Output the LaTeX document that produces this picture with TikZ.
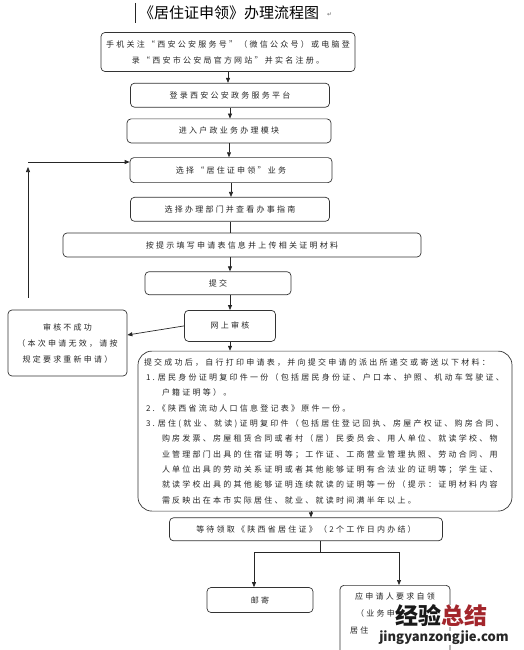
\documentclass[tikz,border=0pt]{standalone}
\usepackage{fontspec}
\setmainfont{Noto Sans CJK SC}
\newfontfamily\boxcjk[LetterSpace=28]{Noto Sans CJK SC}
\newfontfamily\arrowfont{DejaVu Sans}
\usepackage{xcolor}
\usepackage{tikz}
\usetikzlibrary{arrows.meta, positioning}

\definecolor{inkgray}{HTML}{262626}
\definecolor{markred}{HTML}{A3262C}
\newcommand{\itemnum}[1]{\hspace*{2pt}\makebox[12pt][l]{#1}}
\newcommand{\itemcont}{\hspace*{18pt}}

\begin{document}
\begin{tikzpicture}[
    x=1pt, y=1pt,
    box/.style={rectangle, rounded corners=4pt, draw=black!80, line width=0.7pt, minimum height=24pt, align=center, inner sep=2pt, text=inkgray, font=\boxcjk\fontsize{8}{16}\selectfont},
    bigbox/.style={box, rounded corners=14pt, align=left, inner xsep=6pt, inner ysep=0pt, font=\boxcjk\fontsize{8}{15.3}\selectfont},
    arrow/.style={-{Triangle[length=5pt, width=4pt]}, line width=0.7pt, draw=black!85},
    line/.style={line width=0.7pt, draw=black!85},
    wmark/.style={inner sep=0pt, fill=white, font=\bfseries}
]
\useasboundingbox (0,0) rectangle (524,-650);

% title
\node[font=\fontsize{15}{18}\selectfont, text=black] (title) at (229,-13) {《居住证申领》办理流程图};
\node[right=1pt of title, font=\arrowfont\fontsize{6}{6}\selectfont, text=black!60, yshift=-2pt] (pmark) {↵};
\draw[line] (135,-3) -- (135,-23);

% main column
\node[box, minimum width=254pt, minimum height=39pt] (start) at (228,-52) {手机关注“西安公安服务号”（微信公众号）或电脑登\\录“西安市公安局官方网站”并实名注册。};
\node[box, minimum width=199pt, below=11pt of start, xshift=2pt] (login) {登录西安公安政务服务平台};
\node[box, minimum width=204pt, below=11pt of login, xshift=-1pt] (module) {进入户政业务办理模块};
\node[box, minimum width=202pt, minimum height=25pt, below=14pt of module, xshift=2pt] (choose) {选择“居住证申领”业务};
\node[box, minimum width=199pt, below=14pt of choose, xshift=-1pt] (dept) {选择办理部门并查看办事指南};
\node[box, minimum width=358pt, below=11pt of dept, xshift=12pt] (fill) {按提示填写申请表信息并上传相关证明材料};
\node[box, minimum width=146pt, minimum height=23pt, below=14pt of fill, xshift=-24pt] (submit) {提交};
\node[box, minimum width=91pt, minimum height=31pt, below=15pt of submit, xshift=12pt] (review) {网上审核};
\node[box, minimum width=119pt, minimum height=66pt] (fail) at (67.5,-343) {审核不成功\\（本次申请无效，请按\\规定要求重新申请）};

% materials
\node[bigbox, text width=362pt, minimum height=160pt, below=9pt of review, xshift=95pt] (materials) {%
提交成功后，自行打印申请表，并向提交申请的派出所递交或寄送以下材料：\\
\itemnum{1.}居民身份证明复印件一份（包括居民身份证、户口本、护照、机动车驾驶证、\\
\itemcont 户籍证明等）。\\
\itemnum{2.}《陕西省流动人口信息登记表》原件一份。\\
\itemnum{3.}居住(就业、就读)证明复印件（包括居住登记回执、房屋产权证、购房合同、\\
\itemcont 购房发票、房屋租赁合同或者村（居）民委员会、用人单位、就读学校、物\\
\itemcont 业管理部门出具的住宿证明等；工作证、工商营业管理执照、劳动合同、用\\
\itemcont 人单位出具的劳动关系证明或者其他能够证明有合法业的证明等；学生证、\\
\itemcont 就读学校出具的其他能够证明连续就读的证明等一份（提示：证明材料内容\\
\itemcont 需反映出在本市实际居住、就业、就读时间满半年以上。};

% collection
\node[box, minimum width=273pt, minimum height=23pt, below=6pt of materials, xshift=-19pt] (wait) {等待领取《陕西省居住证》（2个工作日内办结）};
\node[box, minimum width=106pt, minimum height=25pt] (mail) at (260,-600) {邮寄};
\node[box, minimum width=110pt, minimum height=90pt, anchor=north] (selfbox) at (395,-585) {};
\node[anchor=north west, inner sep=0pt, align=left, text=inkgray, font=\boxcjk\fontsize{8}{17}\selectfont] (selftext) at (350,-593) {\hspace*{5pt}应申请人要求自领\\\hspace*{6pt}（业务申\\居住};

% watermark
\node[wmark, font=\bfseries\fontsize{23}{23}\selectfont] (markcn) at (441,-616) {\textcolor{black!90}{经验}\textcolor{markred}{总结}};
\node[wmark, font=\bfseries\fontsize{13}{13}\selectfont, text=black!85] (markurl) at (444,-638) {jingyanzongjie.com};

% connectors
\draw[arrow] (start) -- (start |- login.north);
\draw[arrow] (login) -- (login |- module.north);
\draw[arrow] (module) -- (module |- choose.north);
\draw[arrow] (choose) -- (choose |- dept.north);
\draw[line] (dept) -- (dept |- fill.north);
\draw[arrow] (fill.south -| review) -- (submit.north -| review);
\draw[arrow] (review |- submit.south) -- (review);
\draw[arrow] (review) -- (review |- materials.north);
\draw[arrow] (review.west) -- ([yshift=8pt]fail.east);
\coordinate (loopcorner) at (28,-162);
\draw[arrow] ([yshift=12pt]fail.north -| loopcorner) -- ([yshift=-5pt]loopcorner);
\draw[arrow] (loopcorner) -- (choose.west |- loopcorner);
\draw[arrow] ([xshift=5pt]wait.north |- materials.south) -- ([xshift=5pt]wait.north);
\coordinate (fork) at (320,-552);
\draw[line] (wait.south -| fork) -- (fork);
\draw[arrow] (fork) -| ([xshift=-6pt]mail.north);
\draw[arrow] (fork) -| ([xshift=4pt]selfbox.north);
\end{tikzpicture}
\end{document}
